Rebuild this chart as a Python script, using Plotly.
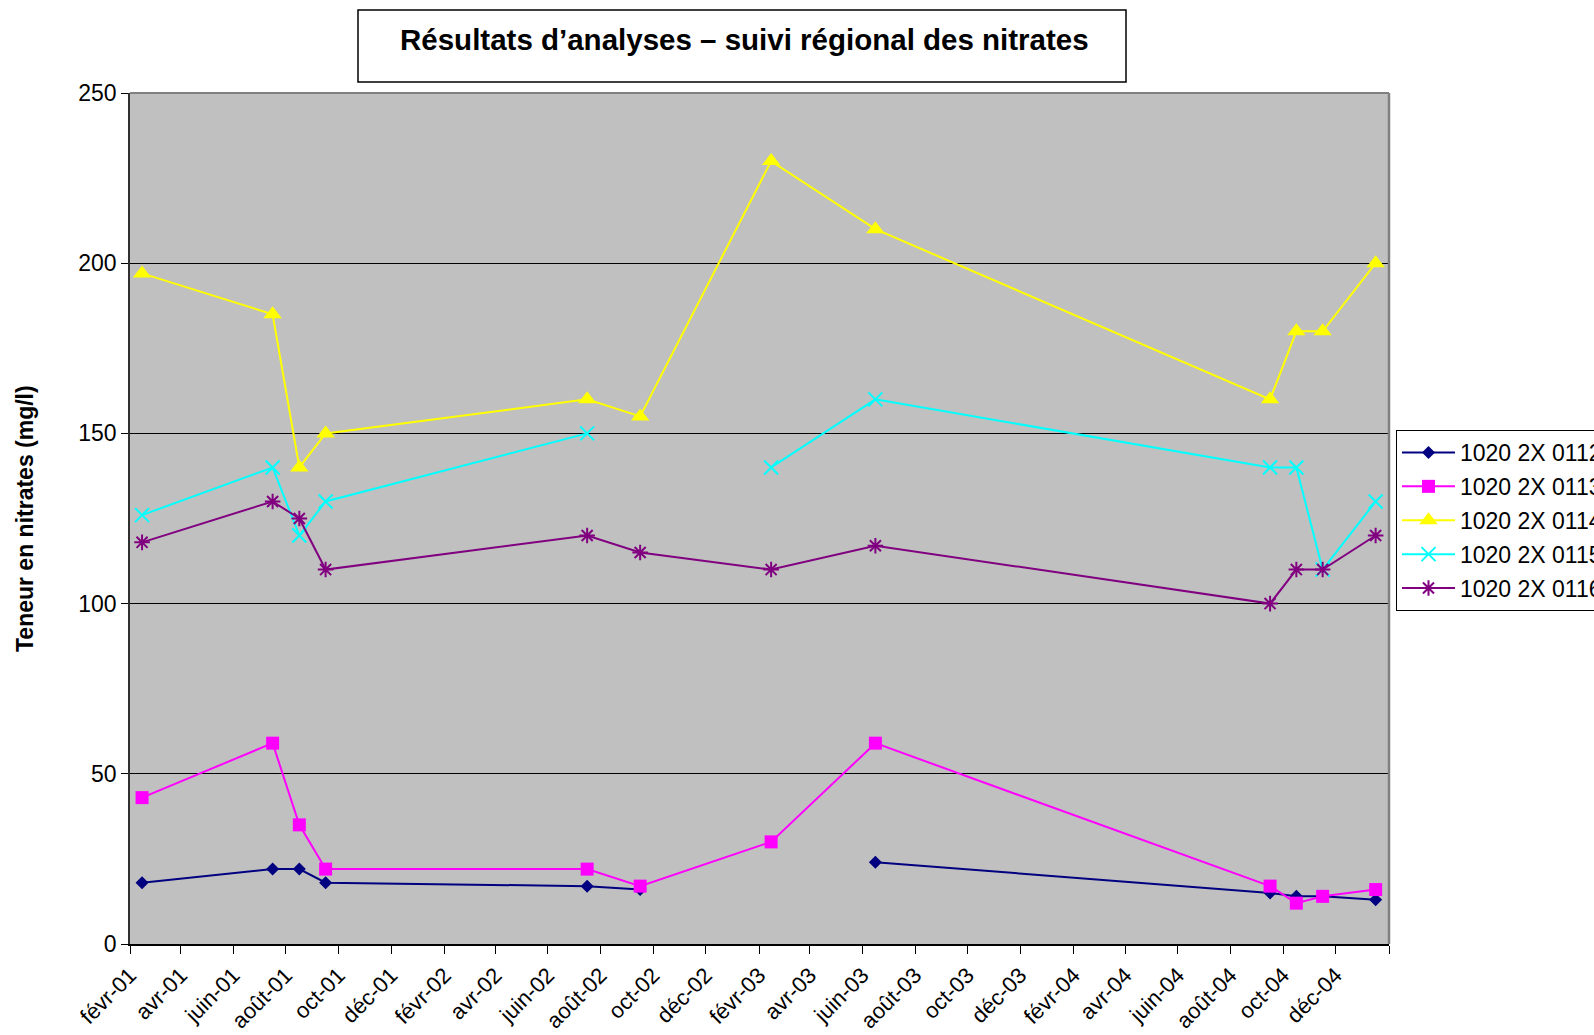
import pandas as pd
import plotly.graph_objects as go

# Sampling months (one measurement per month)
months = ["2001-02", "2001-07", "2001-08", "2001-09", "2002-07", "2002-09",
          "2003-02", "2003-06", "2004-09", "2004-10", "2004-11", "2005-01"]

# Nitrate concentration (mg/l) per station; None = no measurement
s_0112 = [18, 22, 22, 18, 17, 16, None, 24, 15, 14, 14, 13]
s_0113 = [43, 59, 35, 22, 22, 17, 30, 59, 17, 12, 14, 16]
s_0114 = [197, 185, 140, 150, 160, 155, 230, 210, 160, 180, 180, 200]
s_0115 = [126, 140, 120, 130, 150, None, 140, 160, 140, 140, 110, 130]
s_0116 = [118, 130, 125, 110, 120, 115, 110, 117, 100, 110, 110, 120]

station_names = ["1020 2X 0112", "1020 2X 0113", "1020 2X 0114",
                 "1020 2X 0115", "1020 2X 0116"]

# Axis ticks every two months
tick_months = ["2001-02", "2001-04", "2001-06", "2001-08", "2001-10", "2001-12",
               "2002-02", "2002-04", "2002-06", "2002-08", "2002-10", "2002-12",
               "2003-02", "2003-04", "2003-06", "2003-08", "2003-10", "2003-12",
               "2004-02", "2004-04", "2004-06", "2004-08", "2004-10", "2004-12",
               "2005-02"]
tick_labels = ["févr-01", "avr-01", "juin-01", "août-01", "oct-01", "déc-01",
               "févr-02", "avr-02", "juin-02", "août-02", "oct-02", "déc-02",
               "févr-03", "avr-03", "juin-03", "août-03", "oct-03", "déc-03",
               "févr-04", "avr-04", "juin-04", "août-04", "oct-04", "déc-04",
               ""]

y_ticks = [0, 50, 100, 150, 200, 250]


def month_center(m):
    p = pd.Period(m, freq="M")
    start = p.start_time
    end = (p + 1).start_time
    return start + (end - start) / 2


x_dates = [month_center(m) for m in months]
tick_dates = [pd.Period(m, freq="M").start_time for m in tick_months]

FONT = "Liberation Sans, Arial, sans-serif"

# Figure geometry
W, H = 1594, 1035
ML, MR, MT, MB = 130, 205, 93, 91
PW, PH = W - ML - MR, H - MT - MB


def px(x):
    return (x - ML) / PW


def py(y):
    return (H - MB - y) / PH


styles = [
    dict(color="#000080", symbol="diamond", size=10, lw=0),
    dict(color="#FF00FF", symbol="square", size=13, lw=0),
    dict(color="#FFFF00", symbol="triangle-up", size=16, lw=0),
    dict(color="#00FFFF", symbol="x-thin-open", size=14, lw=2),
    dict(color="#800080", symbol="asterisk-open", size=13, lw=2),
]
series = [s_0112, s_0113, s_0114, s_0115, s_0116]

fig = go.Figure()
for name, vals, st in zip(station_names, series, styles):
    fig.add_trace(go.Scatter(
        x=x_dates, y=vals, name=name, legendgroup=name,
        mode="lines+markers",
        line=dict(color=st["color"], width=2),
        marker=dict(symbol=st["symbol"], size=st["size"], color=st["color"],
                    line=dict(color=st["color"], width=st["lw"])),
        connectgaps=False,
    ))

fig.update_layout(
    width=W, height=H,
    margin=dict(l=ML, r=MR, t=MT, b=MB, autoexpand=False),
    paper_bgcolor="white",
    plot_bgcolor="#C0C0C0",
    font=dict(family=FONT, size=23, color="black"),
    showlegend=True,
    legend=dict(
        x=px(1396), y=py(430), xanchor="left", yanchor="top",
        bgcolor="white", bordercolor="black", borderwidth=1,
        font=dict(family=FONT, size=23, color="black"),
        tracegroupgap=1, itemwidth=53,
    ),
    xaxis=dict(
        type="date",
        range=[tick_dates[0], tick_dates[-1]],
        tickmode="array", tickvals=tick_dates, ticktext=tick_labels,
        tickangle=-45, ticks="outside", ticklen=8, tickcolor="black",
        showline=True, linecolor="black", linewidth=1.5,
        showgrid=False, zeroline=False,
        tickfont=dict(family=FONT, size=22, color="black"),
    ),
    yaxis=dict(
        range=[0, 250], tickmode="array", tickvals=y_ticks,
        ticks="outside", ticklen=7, tickcolor="black",
        showline=True, linecolor="#303030", linewidth=1.5,
        showgrid=True, gridcolor="black", gridwidth=1, zeroline=False,
        tickfont=dict(family=FONT, size=23, color="black"),
    ),
)

# Gray frame on the top and right of the plot area
fig.add_shape(type="line", xref="paper", yref="paper", x0=0, x1=1, y0=1, y1=1,
              line=dict(color="#808080", width=2))
fig.add_shape(type="line", xref="paper", yref="paper", x0=1, x1=1, y0=0, y1=1,
              line=dict(color="#808080", width=2.5))

# Framed chart title
fig.add_shape(type="rect", xref="paper", yref="paper",
              x0=px(358), x1=px(1126), y0=py(82), y1=py(10),
              line=dict(color="black", width=1.5), fillcolor="white")
fig.add_annotation(
    text="Résultats d’analyses – suivi régional des nitrates",
    xref="paper", yref="paper", x=px(744), y=py(39),
    xanchor="center", yanchor="middle", showarrow=False,
    font=dict(family=FONT, size=29.5, color="black", weight="bold"),
)

# Y axis title
fig.add_annotation(
    text="Teneur en nitrates (mg/l)",
    xref="paper", yref="paper", x=px(25), y=py(519),
    xanchor="center", yanchor="middle", textangle=-90, showarrow=False,
    font=dict(family=FONT, size=23, color="black", weight="bold"),
)

fig.write_html("out.html")
